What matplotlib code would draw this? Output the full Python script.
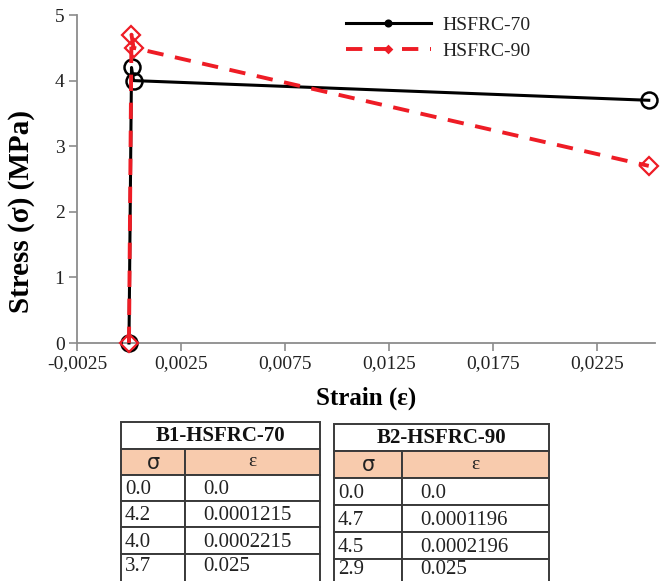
import matplotlib
matplotlib.use("Agg")
import matplotlib.pyplot as plt
from matplotlib.ticker import FuncFormatter, MultipleLocator
from matplotlib.patches import Rectangle

# curve data
strain_70 = [0.0, 0.0001215, 0.0002215, 0.025]
stress_70 = [0.0, 4.2, 4.0, 3.7]
strain_90 = [0.0, 0.0001196, 0.0002196, 0.025]
stress_90 = [0.0, 4.7, 4.5, 2.7]

series_names = ["HSFRC-70", "HSFRC-90"]

# tables under the chart (text as printed)
tab1_title = "B1-HSFRC-70"
tab1_sigma = ["0.0", "4.2", "4.0", "3.7"]
tab1_eps = ["0.0", "0.0001215", "0.0002215", "0.025"]
tab2_title = "B2-HSFRC-90"
tab2_sigma = ["0.0", "4.7", "4.5", "2.9"]
tab2_eps = ["0.0", "0.0001196", "0.0002196", "0.025"]

W, H = 664, 581
serif = "Liberation Serif"
plt.rcParams["font.family"] = [serif, "DejaVu Serif"]

fig = plt.figure(figsize=(W / 100, H / 100), dpi=100)
ax = fig.add_axes([77 / W, 1 - 343 / H, 578 / W, 328 / H])

ax.plot(strain_70, stress_70, color="black", lw=2.2, marker="o", ms=11.5,
        mfc="none", mec="black", mew=1.8, label=series_names[0], zorder=3,
        clip_on=False)
ax.plot(strain_90, stress_90, color="#EE1C25", lw=2.8, ls=(0, (4.2, 3.0)),
        marker="D", ms=9.5, mfc="none", mec="#EE1C25", mew=1.6,
        label=series_names[1], zorder=4, clip_on=False)

ax.set_xlim(-0.0025, 0.0253)
ax.set_ylim(0, 5)
ax.set_xticks([-0.0025, 0.0025, 0.0075, 0.0125, 0.0175, 0.0225])
ax.yaxis.set_major_locator(MultipleLocator(1))
ax.xaxis.set_major_formatter(FuncFormatter(lambda v, p: f"{v:.4f}".replace(".", ",")))
ax.yaxis.set_major_formatter(FuncFormatter(lambda v, p: f"{v:.0f}"))

for s in ["top", "right"]:
    ax.spines[s].set_visible(False)
for s in ["left", "bottom"]:
    ax.spines[s].set_color("#8c8c8c")
    ax.spines[s].set_linewidth(1.3)
ax.tick_params(direction="out", length=6, width=1.2, color="#8c8c8c",
               labelsize=14, labelcolor="#222222", pad=3)

ax.set_xlabel("Strain (ε)", fontsize=18, fontweight="bold", labelpad=10)
ax.set_ylabel("Stress (σ) (MPa)", fontsize=21, fontweight="bold")
ax.yaxis.set_label_coords(-0.072, 0.40)

leg = ax.legend(loc="upper left", bbox_to_anchor=(251 / 578, 1.05), frameon=False,
                fontsize=14, handlelength=4.4, markerscale=0.35,
                labelspacing=0.45, handletextpad=0.6)
for t in leg.get_texts():
    t.set_color("#222222")

# tables drawn in a pixel-coordinate axes
tx = fig.add_axes([0, 0, 1, 420 / H])
tx.set_xlim(0, W)
tx.set_ylim(H, H - 420)
tx.axis("off")

edge = "#3a3a3a"
peach = "#F8CBAD"


def draw_table(x0, x1, xmid, rows_y, title, sig, eps, last_text_y):
    # rows_y: borders from top, last row runs off the picture
    y = rows_y
    tx.add_patch(Rectangle((x0, y[0]), x1 - x0, y[1] - y[0], fc="white",
                           ec=edge, lw=1.4))
    tx.text((x0 + x1) / 2, (y[0] + y[1]) / 2 + 1, title, ha="center", va="center",
            fontsize=15, fontweight="bold", color="#111111")
    tx.add_patch(Rectangle((x0, y[1]), xmid - x0, y[2] - y[1], fc=peach, ec=edge, lw=1.4))
    tx.add_patch(Rectangle((xmid, y[1]), x1 - xmid, y[2] - y[1], fc=peach, ec=edge, lw=1.4))
    tx.text((x0 + xmid) / 2, (y[1] + y[2]) / 2 + 1, "σ", ha="center", va="center",
            fontsize=15, family="DejaVu Sans", color="#222222")
    tx.text((xmid + x1) / 2, (y[1] + y[2]) / 2, "ε", ha="center", va="center",
            fontsize=14, color="#222222")
    n = len(sig)
    for i in range(n):
        top, bot = y[2 + i], y[3 + i]
        tx.add_patch(Rectangle((x0, top), xmid - x0, bot - top, fc="white", ec=edge, lw=1.4))
        tx.add_patch(Rectangle((xmid, top), x1 - xmid, bot - top, fc="white", ec=edge, lw=1.4))
        ty = (top + bot) / 2 + 2 if i < n - 1 else last_text_y
        tx.text(x0 + 4, ty, sig[i], ha="left", va="center",
                fontsize=15, color="#222222")
        tx.text(xmid + 18, ty, eps[i], ha="left", va="center",
                fontsize=15, color="#222222")


draw_table(121, 320, 185, [422, 449, 475, 501, 527, 554, 600],
           tab1_title, tab1_sigma, tab1_eps, 567)
draw_table(334, 549, 402, [424, 451, 478, 505, 532, 559, 600],
           tab2_title, tab2_sigma, tab2_eps, 570)

fig.savefig("out.png", dpi=100)
